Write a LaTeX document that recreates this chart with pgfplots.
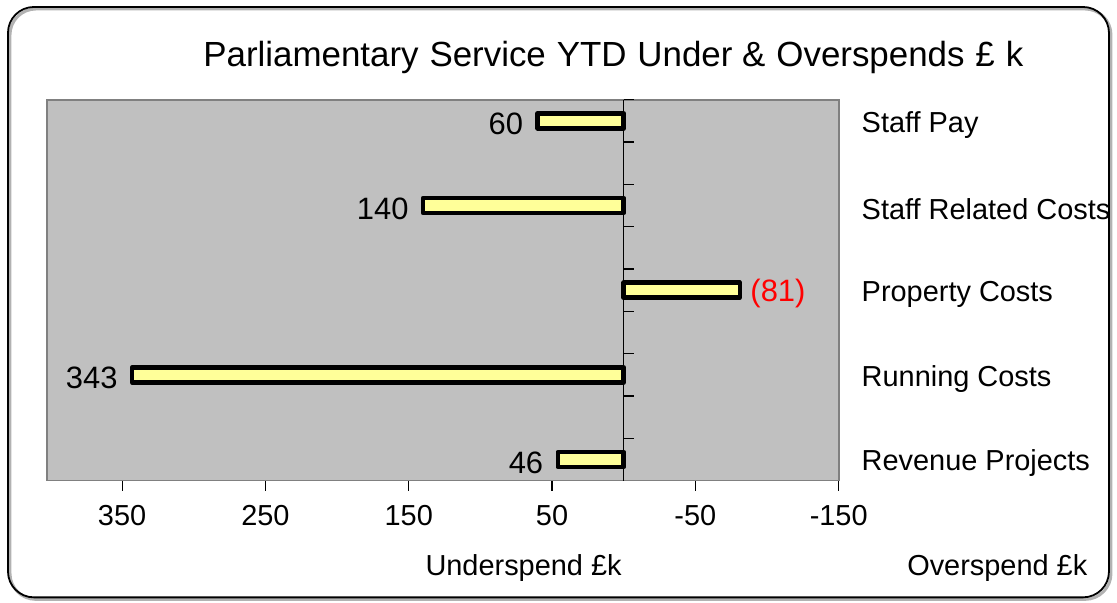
\documentclass[border=0pt]{standalone}
\usepackage{fontspec}
\setmainfont{Liberation Sans}
\usepackage{pgfplots}
\pgfplotsset{compat=1.18}
\definecolor{plotbg}{HTML}{C0C0C0}
\definecolor{boxline}{HTML}{808080}
\definecolor{barfill}{HTML}{FFFF99}
\begin{document}
\begin{tikzpicture}[x=1pt,y=1pt]
  % page extent and frame
  \path (0,0) rectangle (558.5,302);
  \draw[line width=1.5pt, gray!60, rounded corners=13pt] (5,1.5) rectangle (557,297.5);
  \draw[line width=0.9pt, black, rounded corners=13pt] (4,2.5) rectangle (556,298.5);

  \node[font=\fontsize{17.5}{20}\selectfont] at (307.5,273) {Parliamentary\hspace{0.6pt} Service\hspace{0.6pt} YTD\hspace{0.6pt} Under \&\hspace{0.6pt} Overspends\hspace{0.6pt} £\hspace{0.6pt} k};

  \begin{axis}[
      at={(23.5pt,61pt)}, anchor=south west,
      scale only axis, width=397pt, height=191pt,
      x dir=reverse, y dir=reverse,
      xmin=-150, xmax=402.5,
      ymin=-0.5, ymax=8.5,
      xtick={350,250,150,50,-50,-150},
      xticklabels={350,250,150,50,-50,-150},
      xtick pos=bottom, tick align=outside,
      major tick length=5pt,
      ytick={0,2,4,6,8},
      yticklabels={Staff Pay,Staff Related Costs,Property Costs,Running Costs,Revenue Projects},
      ytick pos=right, yticklabel pos=right,
      ytick style={draw=none},
      yticklabel style={anchor=west, xshift=3pt, yshift=-2pt},
      xticklabel style={yshift=-4pt},
      tick style={black, line width=0.6pt},
      axis line style={boxline, line width=0.8pt},
      axis background/.style={fill=plotbg},
      ticklabel style={font=\fontsize{14.5}{17}\selectfont},
      clip=false,
    ]
    \addplot[xbar, bar width=7.5pt, bar shift=0pt, draw=black, fill=barfill,
      line width=2.3pt, line join=round,
      point meta=explicit symbolic, nodes near coords,
      every node near coord/.style={anchor=east, black, line width=0pt,
        font=\fontsize{15.5}{18}\selectfont, xshift=-4pt, yshift=-1.5pt}]
      coordinates {(60,0) [60] (140,2) [140] (343,6) [343] (46,8) [46]};
    \addplot[xbar, bar width=7.5pt, bar shift=0pt, draw=black, fill=barfill,
      line width=2.3pt, line join=round,
      point meta=explicit symbolic, nodes near coords,
      every node near coord/.style={anchor=west, red, line width=0pt,
        font=\fontsize{15.5}{18}\selectfont, xshift=2pt, yshift=-1.5pt}]
      coordinates {(-81,4) [(81)]};
    % zero line with its ticks
    \draw[black, line width=0.6pt] (axis cs:0,-0.5) -- (axis cs:0,8.5);
    \pgfplotsinvokeforeach{-0.5,0.5,1.5,2.5,3.5,4.5,5.5,6.5,7.5}{
      \draw[black, line width=0.6pt] (axis cs:0,#1) -- ([xshift=5pt]axis cs:0,#1);
    }
  \end{axis}

  \node[font=\fontsize{14.5}{17}\selectfont] at (262.5,17) {Underspend £k};
  \node[font=\fontsize{14.5}{17}\selectfont] at (500,17) {Overspend £k};
\end{tikzpicture}
\end{document}
